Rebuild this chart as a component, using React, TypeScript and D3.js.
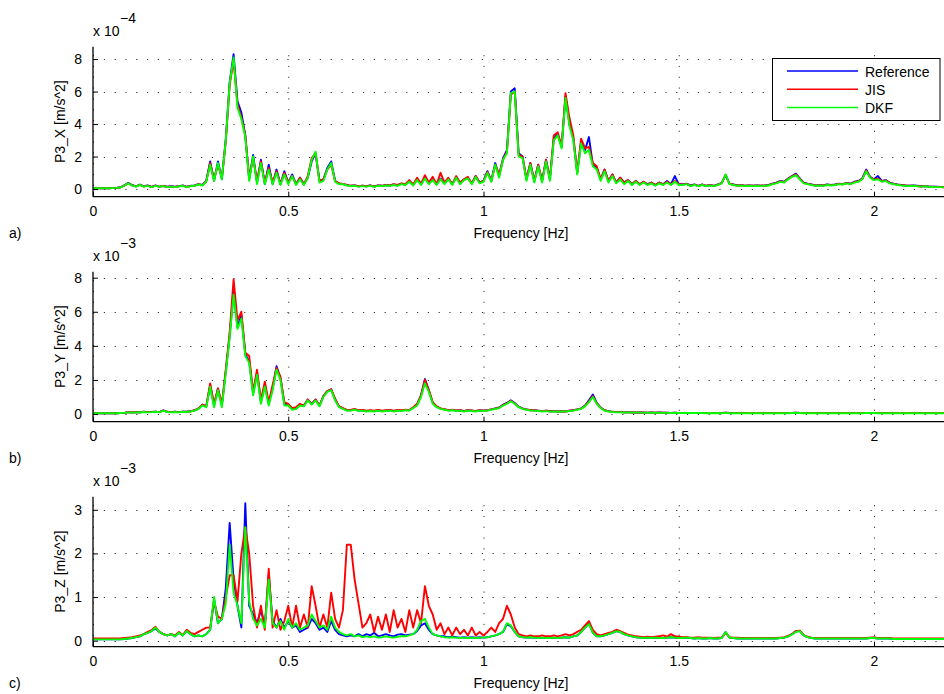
import React from "react";
import * as d3 from "d3";

// spectra at 0.01 Hz steps, from 0 to 2.18 Hz
const FREQ_STEP = 0.01;

const xTicks = [0, 0.5, 1, 1.5, 2];
const seriesNames = ["Reference", "JIS", "DKF"];
const seriesColors = ["#0000ff", "#ff0000", "#00ff00"];

// P3_X, units 1e-4 m/s^2
const refX = [
  0.05,0.05,0.05,0.05,0.05,0.06,0.07,0.11,0.22,0.38,
  0.25,0.16,0.28,0.17,0.22,0.14,0.22,0.15,0.2,0.14,
  0.17,0.14,0.18,0.22,0.14,0.2,0.22,0.3,0.25,0.5,
  1.7,0.5,1.7,0.6,3.1,6.6,8.3,5.4,4.7,3.3,
  0.6,2.1,0.4,1.8,0.3,1.5,0.3,1.2,0.3,1.1,
  0.4,0.9,0.3,0.7,0.3,0.7,1.7,2.2,0.5,0.6,
  1.3,1.7,0.5,0.35,0.3,0.25,0.2,0.22,0.17,0.2,
  0.17,0.22,0.16,0.22,0.2,0.25,0.22,0.28,0.22,0.33,
  0.28,0.5,0.25,0.6,0.3,0.7,0.35,0.6,0.3,0.65,
  0.35,0.65,0.3,0.75,0.35,0.6,0.7,0.35,0.8,0.4,
  0.5,1.1,0.5,1.6,0.8,1.9,2.4,6.0,6.2,2.2,
  2.0,0.6,1.6,0.5,1.5,0.5,1.8,0.6,3.1,3.4,
  2.6,5.7,4.0,3.1,1.0,2.9,2.4,3.2,1.5,1.3,
  0.6,1.2,0.5,0.9,0.4,0.7,0.4,0.55,0.3,0.5,
  0.3,0.45,0.3,0.4,0.25,0.4,0.3,0.5,0.3,0.8,
  0.3,0.3,0.33,0.22,0.28,0.2,0.28,0.2,0.25,0.2,
  0.28,0.38,0.85,0.33,0.28,0.22,0.25,0.2,0.22,0.2,
  0.22,0.2,0.22,0.25,0.33,0.4,0.5,0.45,0.65,0.8,
  0.95,0.65,0.4,0.33,0.28,0.22,0.25,0.22,0.28,0.25,
  0.28,0.33,0.3,0.38,0.33,0.45,0.5,0.65,1.2,0.75,
  0.6,0.8,0.5,0.55,0.4,0.33,0.28,0.25,0.22,0.2,
  0.22,0.2,0.17,0.19,0.16,0.15,0.14,0.13,0.12,
];
const jisX = [
  0.05,0.05,0.05,0.05,0.05,0.06,0.07,0.1,0.21,0.36,
  0.23,0.16,0.26,0.16,0.21,0.13,0.21,0.15,0.19,0.13,
  0.16,0.13,0.17,0.21,0.13,0.19,0.21,0.3,0.24,0.48,
  1.6,0.6,1.5,0.7,2.9,6.4,7.9,5.2,4.4,3.3,
  0.7,1.9,0.5,1.7,0.4,1.3,0.4,1.1,0.3,1.0,
  0.4,0.8,0.3,0.7,0.3,0.8,1.9,2.2,0.5,0.6,
  1.2,1.5,0.5,0.35,0.32,0.25,0.2,0.22,0.17,0.2,
  0.17,0.22,0.16,0.22,0.2,0.25,0.23,0.3,0.25,0.35,
  0.3,0.55,0.28,0.7,0.32,0.85,0.4,0.75,0.3,1.0,
  0.4,0.7,0.3,0.8,0.4,0.6,0.75,0.35,0.8,0.4,
  0.5,1.05,0.5,1.5,0.9,1.8,2.3,5.8,6.0,2.1,
  2.0,0.6,1.6,0.5,1.5,0.5,1.8,0.6,3.3,3.5,
  2.6,5.9,4.4,3.3,1.0,3.1,2.5,2.6,1.6,1.4,
  0.6,1.2,0.5,0.9,0.4,0.7,0.4,0.55,0.3,0.5,
  0.3,0.45,0.28,0.4,0.25,0.4,0.28,0.45,0.28,0.5,
  0.3,0.28,0.32,0.2,0.27,0.2,0.27,0.2,0.24,0.2,
  0.27,0.37,0.88,0.32,0.27,0.22,0.24,0.2,0.22,0.2,
  0.22,0.2,0.22,0.24,0.32,0.38,0.48,0.43,0.63,0.78,
  0.9,0.62,0.38,0.32,0.27,0.22,0.24,0.22,0.27,0.24,
  0.27,0.32,0.3,0.37,0.32,0.43,0.48,0.63,1.15,0.72,
  0.58,0.65,0.48,0.53,0.38,0.32,0.27,0.24,0.22,0.2,
  0.21,0.19,0.16,0.18,0.15,0.14,0.13,0.13,0.11,
];
const dkfX = [
  0.05,0.05,0.05,0.05,0.05,0.06,0.07,0.1,0.2,0.35,
  0.22,0.15,0.25,0.15,0.2,0.12,0.2,0.14,0.18,0.12,
  0.15,0.12,0.16,0.2,0.12,0.18,0.2,0.28,0.22,0.45,
  1.5,0.5,1.6,0.6,3.0,6.5,8.1,5.0,4.3,3.2,
  0.5,2.0,0.3,1.6,0.3,1.2,0.3,1.0,0.25,0.9,
  0.3,0.8,0.25,0.6,0.25,0.7,1.8,2.3,0.4,0.5,
  1.2,1.6,0.45,0.3,0.3,0.22,0.18,0.2,0.15,0.18,
  0.15,0.2,0.14,0.2,0.18,0.22,0.2,0.25,0.2,0.3,
  0.25,0.45,0.22,0.55,0.25,0.65,0.3,0.55,0.25,0.6,
  0.3,0.6,0.25,0.7,0.3,0.55,0.65,0.3,0.75,0.35,
  0.45,1.0,0.45,1.5,0.7,1.8,2.2,5.9,6.0,2.0,
  1.9,0.5,1.5,0.4,1.4,0.4,1.7,0.5,3.0,3.3,
  2.5,5.6,3.9,3.0,0.9,2.8,2.2,2.4,1.4,1.2,
  0.5,1.1,0.4,0.8,0.35,0.6,0.3,0.5,0.25,0.45,
  0.25,0.4,0.25,0.35,0.2,0.35,0.25,0.4,0.25,0.45,
  0.25,0.25,0.3,0.18,0.25,0.18,0.25,0.18,0.22,0.18,
  0.25,0.35,0.9,0.3,0.25,0.2,0.22,0.18,0.2,0.18,
  0.2,0.18,0.2,0.22,0.3,0.35,0.45,0.4,0.6,0.75,
  0.85,0.6,0.35,0.3,0.25,0.2,0.22,0.2,0.25,0.22,
  0.25,0.3,0.28,0.35,0.3,0.4,0.45,0.6,1.1,0.7,
  0.55,0.6,0.45,0.5,0.35,0.3,0.25,0.22,0.2,0.18,
  0.2,0.18,0.15,0.17,0.14,0.13,0.12,0.12,0.1,
];

// P3_Y, units 1e-3 m/s^2
const refY = [
  0.05,0.05,0.05,0.05,0.05,0.05,0.05,0.06,0.07,0.11,
  0.09,0.11,0.1,0.13,0.11,0.12,0.14,0.11,0.22,0.13,
  0.11,0.13,0.11,0.14,0.13,0.16,0.22,0.32,0.55,0.45,
  1.7,0.5,1.5,0.5,2.5,4.6,7.2,5.1,5.8,3.5,
  3.1,1.2,2.4,0.7,1.7,0.6,1.5,2.8,2.1,0.6,
  0.55,0.3,0.35,0.55,0.5,0.85,0.6,0.85,0.5,1.05,
  1.35,1.45,0.85,0.45,0.33,0.22,0.22,0.27,0.2,0.22,
  0.17,0.2,0.17,0.22,0.17,0.2,0.22,0.17,0.22,0.2,
  0.24,0.22,0.37,0.55,1.1,2.05,1.4,0.65,0.43,0.32,
  0.27,0.22,0.24,0.2,0.22,0.17,0.22,0.2,0.17,0.22,
  0.2,0.22,0.27,0.33,0.38,0.55,0.65,0.8,0.65,0.43,
  0.33,0.27,0.22,0.22,0.2,0.17,0.19,0.16,0.17,0.15,
  0.16,0.15,0.19,0.22,0.27,0.33,0.5,0.8,1.15,0.65,
  0.38,0.22,0.17,0.13,0.11,0.11,0.1,0.11,0.09,0.1,
  0.09,0.09,0.08,0.09,0.08,0.09,0.08,0.08,0.07,0.08,
  0.07,0.07,0.07,0.07,0.07,0.07,0.07,0.06,0.07,0.06,
  0.07,0.06,0.08,0.06,0.06,0.06,0.06,0.06,0.06,0.06,
  0.06,0.06,0.06,0.06,0.06,0.06,0.06,0.06,0.06,0.07,
  0.08,0.07,0.06,0.06,0.06,0.06,0.06,0.06,0.06,0.06,
  0.06,0.06,0.06,0.06,0.06,0.06,0.06,0.06,0.07,0.07,
  0.07,0.06,0.06,0.06,0.06,0.06,0.06,0.06,0.06,0.06,
  0.06,0.06,0.06,0.06,0.06,0.06,0.06,0.06,0.06,
];
const jisY = [
  0.05,0.05,0.05,0.05,0.05,0.05,0.05,0.06,0.07,0.11,
  0.09,0.11,0.1,0.13,0.11,0.12,0.14,0.11,0.21,0.13,
  0.11,0.13,0.11,0.14,0.13,0.16,0.22,0.33,0.55,0.45,
  1.8,0.6,1.5,0.6,2.6,4.8,7.9,5.5,6.0,3.6,
  3.4,1.3,2.6,0.8,1.9,0.7,1.7,2.7,2.2,0.7,
  0.6,0.35,0.4,0.6,0.5,0.85,0.6,0.85,0.5,1.05,
  1.35,1.45,0.9,0.45,0.35,0.24,0.24,0.3,0.22,0.24,
  0.19,0.22,0.19,0.24,0.19,0.22,0.24,0.19,0.24,0.22,
  0.25,0.23,0.4,0.6,1.1,2.0,1.4,0.7,0.45,0.33,
  0.28,0.23,0.25,0.21,0.23,0.18,0.23,0.21,0.18,0.23,
  0.2,0.22,0.27,0.32,0.37,0.52,0.62,0.78,0.62,0.42,
  0.32,0.27,0.22,0.22,0.2,0.17,0.19,0.16,0.17,0.15,
  0.16,0.15,0.19,0.22,0.27,0.32,0.48,0.75,1.05,0.62,
  0.37,0.22,0.17,0.13,0.11,0.11,0.1,0.11,0.09,0.1,
  0.09,0.09,0.08,0.09,0.08,0.09,0.08,0.08,0.07,0.08,
  0.07,0.07,0.07,0.07,0.07,0.07,0.07,0.06,0.07,0.06,
  0.07,0.06,0.08,0.06,0.06,0.06,0.06,0.06,0.06,0.06,
  0.06,0.06,0.06,0.06,0.06,0.06,0.06,0.06,0.06,0.07,
  0.08,0.07,0.06,0.06,0.06,0.06,0.06,0.06,0.06,0.06,
  0.06,0.06,0.06,0.06,0.06,0.06,0.06,0.06,0.07,0.07,
  0.07,0.06,0.06,0.06,0.06,0.06,0.06,0.06,0.06,0.06,
  0.06,0.06,0.06,0.06,0.06,0.06,0.06,0.06,0.06,
];
const dkfY = [
  0.05,0.05,0.05,0.05,0.05,0.05,0.05,0.06,0.07,0.1,
  0.08,0.1,0.09,0.12,0.1,0.11,0.13,0.1,0.2,0.12,
  0.1,0.12,0.1,0.13,0.12,0.15,0.2,0.3,0.5,0.4,
  1.6,0.4,1.4,0.4,2.4,4.5,7.0,5.0,5.6,3.4,
  3.0,1.1,2.3,0.6,1.6,0.5,1.4,2.6,2.0,0.5,
  0.5,0.25,0.3,0.5,0.45,0.8,0.55,0.8,0.45,1.0,
  1.3,1.4,0.8,0.4,0.3,0.2,0.2,0.25,0.18,0.2,
  0.15,0.18,0.15,0.2,0.15,0.18,0.2,0.15,0.2,0.18,
  0.22,0.2,0.35,0.5,1.0,1.8,1.3,0.6,0.4,0.3,
  0.25,0.2,0.22,0.18,0.2,0.15,0.2,0.18,0.15,0.2,
  0.18,0.2,0.25,0.3,0.35,0.5,0.6,0.75,0.6,0.4,
  0.3,0.25,0.2,0.2,0.18,0.15,0.17,0.14,0.15,0.13,
  0.15,0.14,0.18,0.2,0.25,0.3,0.45,0.7,1.0,0.6,
  0.35,0.2,0.15,0.12,0.1,0.1,0.09,0.1,0.08,0.09,
  0.08,0.08,0.07,0.08,0.07,0.08,0.07,0.07,0.06,0.07,
  0.06,0.06,0.06,0.06,0.06,0.06,0.06,0.05,0.06,0.05,
  0.06,0.05,0.07,0.05,0.05,0.05,0.05,0.05,0.05,0.05,
  0.05,0.05,0.05,0.05,0.05,0.05,0.05,0.05,0.05,0.06,
  0.07,0.06,0.05,0.05,0.05,0.05,0.05,0.05,0.05,0.05,
  0.05,0.05,0.05,0.05,0.05,0.05,0.05,0.05,0.06,0.06,
  0.06,0.05,0.05,0.05,0.05,0.05,0.05,0.05,0.05,0.05,
  0.05,0.05,0.05,0.05,0.05,0.05,0.05,0.05,0.05,
];

// P3_Z, units 1e-3 m/s^2
const refZ = [
  0.03,0.03,0.03,0.03,0.03,0.03,0.03,0.03,0.04,0.05,
  0.06,0.08,0.1,0.15,0.18,0.22,0.28,0.2,0.15,0.12,
  0.15,0.1,0.18,0.12,0.22,0.15,0.1,0.12,0.1,0.15,
  0.25,0.95,0.4,0.5,1.2,2.7,1.4,0.8,0.3,3.15,
  0.8,0.6,0.4,0.7,0.35,1.5,0.45,0.3,0.5,0.3,
  0.45,0.3,0.35,0.2,0.25,0.3,0.5,0.4,0.25,0.3,
  0.2,0.45,0.25,0.15,0.12,0.1,0.12,0.1,0.15,0.1,
  0.15,0.12,0.18,0.1,0.12,0.15,0.12,0.1,0.14,0.15,
  0.12,0.14,0.15,0.22,0.35,0.4,0.25,0.15,0.12,0.1,
  0.1,0.08,0.09,0.08,0.07,0.08,0.07,0.08,0.07,0.08,
  0.07,0.08,0.1,0.12,0.15,0.2,0.38,0.33,0.2,0.1,
  0.08,0.07,0.08,0.07,0.06,0.07,0.06,0.06,0.07,0.06,
  0.07,0.08,0.07,0.1,0.12,0.2,0.3,0.4,0.18,0.1,
  0.1,0.12,0.15,0.18,0.22,0.2,0.15,0.12,0.1,0.08,
  0.07,0.06,0.07,0.06,0.07,0.06,0.06,0.07,0.08,0.07,
  0.06,0.06,0.07,0.06,0.05,0.06,0.05,0.05,0.06,0.05,
  0.05,0.06,0.2,0.07,0.06,0.05,0.05,0.05,0.05,0.05,
  0.05,0.05,0.05,0.05,0.05,0.05,0.06,0.07,0.1,0.15,
  0.22,0.22,0.12,0.08,0.06,0.05,0.05,0.05,0.05,0.05,
  0.05,0.05,0.05,0.05,0.05,0.05,0.05,0.05,0.05,0.06,
  0.06,0.05,0.05,0.05,0.05,0.04,0.04,0.04,0.04,0.04,
  0.04,0.04,0.04,0.04,0.04,0.04,0.04,0.04,0.04,
];
const jisZ = [
  0.05,0.05,0.05,0.05,0.05,0.05,0.05,0.05,0.06,0.07,
  0.08,0.1,0.12,0.15,0.2,0.24,0.32,0.2,0.15,0.12,
  0.15,0.12,0.2,0.13,0.25,0.18,0.15,0.2,0.25,0.3,
  0.3,0.9,0.55,0.5,1.0,1.5,1.5,0.9,2.0,2.6,
  2.0,0.8,0.3,0.8,0.25,1.65,0.3,0.7,0.25,0.45,
  0.8,0.3,0.8,0.3,0.6,0.3,1.25,0.8,0.3,0.6,
  0.3,1.1,0.5,0.3,0.7,2.2,2.2,1.4,0.85,0.3,
  0.4,0.6,0.2,0.55,0.25,0.6,0.2,0.7,0.3,0.5,
  0.2,0.7,0.3,0.7,0.4,1.25,0.8,0.6,0.25,0.4,
  0.15,0.3,0.12,0.3,0.15,0.25,0.12,0.3,0.12,0.2,
  0.12,0.2,0.3,0.2,0.4,0.5,0.8,0.6,0.3,0.15,
  0.12,0.1,0.12,0.1,0.1,0.12,0.1,0.1,0.12,0.1,
  0.12,0.15,0.12,0.15,0.2,0.25,0.35,0.45,0.25,0.15,
  0.12,0.15,0.18,0.2,0.25,0.22,0.18,0.14,0.12,0.1,
  0.09,0.08,0.09,0.08,0.09,0.1,0.12,0.09,0.15,0.1,
  0.09,0.08,0.08,0.07,0.07,0.08,0.07,0.07,0.07,0.06,
  0.07,0.07,0.18,0.08,0.07,0.07,0.06,0.06,0.06,0.06,
  0.06,0.06,0.06,0.06,0.06,0.06,0.07,0.08,0.11,0.15,
  0.22,0.23,0.13,0.09,0.07,0.06,0.06,0.06,0.06,0.06,
  0.06,0.06,0.06,0.06,0.06,0.06,0.06,0.06,0.06,0.07,
  0.08,0.06,0.06,0.06,0.06,0.05,0.05,0.05,0.05,0.05,
  0.05,0.05,0.05,0.05,0.05,0.05,0.05,0.05,0.05,
];
const dkfZ = [
  0.03,0.03,0.03,0.03,0.03,0.03,0.03,0.03,0.04,0.05,
  0.06,0.08,0.1,0.15,0.18,0.22,0.3,0.2,0.15,0.12,
  0.15,0.1,0.18,0.12,0.22,0.15,0.1,0.12,0.1,0.15,
  0.25,1.0,0.4,0.5,0.85,2.2,1.1,0.8,0.4,2.6,
  0.9,0.5,0.35,0.5,0.3,1.4,0.4,0.3,0.45,0.25,
  0.5,0.3,0.4,0.25,0.3,0.35,0.6,0.45,0.3,0.35,
  0.25,0.55,0.3,0.2,0.15,0.12,0.15,0.1,0.12,0.08,
  0.1,0.08,0.1,0.07,0.08,0.1,0.08,0.07,0.09,0.1,
  0.1,0.12,0.15,0.25,0.45,0.5,0.3,0.15,0.12,0.1,
  0.08,0.07,0.08,0.07,0.06,0.07,0.06,0.07,0.06,0.07,
  0.07,0.08,0.1,0.12,0.15,0.2,0.4,0.35,0.2,0.1,
  0.08,0.07,0.08,0.07,0.06,0.07,0.06,0.06,0.07,0.06,
  0.07,0.08,0.07,0.1,0.12,0.2,0.3,0.38,0.18,0.1,
  0.1,0.12,0.15,0.18,0.22,0.2,0.15,0.12,0.1,0.08,
  0.07,0.06,0.07,0.06,0.07,0.06,0.06,0.07,0.08,0.07,
  0.06,0.06,0.07,0.06,0.05,0.06,0.05,0.05,0.06,0.05,
  0.05,0.06,0.2,0.07,0.06,0.05,0.05,0.05,0.05,0.05,
  0.05,0.05,0.05,0.05,0.05,0.05,0.06,0.07,0.1,0.14,
  0.2,0.22,0.12,0.08,0.06,0.05,0.05,0.05,0.05,0.05,
  0.05,0.05,0.05,0.05,0.05,0.05,0.05,0.05,0.05,0.06,
  0.06,0.05,0.05,0.05,0.05,0.04,0.04,0.04,0.04,0.04,
  0.04,0.04,0.04,0.04,0.04,0.04,0.04,0.04,0.04,
];

const panels = [
  { letter: "a)", ylabel: "P3_X [m/s^2]", exponent: "\u22124", yDomain: [-0.47, 8.76], yTicks: [0, 2, 4, 6, 8], series: [refX, jisX, dkfX] },
  { letter: "b)", ylabel: "P3_Y [m/s^2]", exponent: "\u22123", yDomain: [-0.45, 8.35], yTicks: [0, 2, 4, 6, 8], series: [refY, jisY, dkfY] },
  { letter: "c)", ylabel: "P3_Z [m/s^2]", exponent: "\u22123", yDomain: [-0.138, 3.3], yTicks: [0, 1, 2, 3], series: [refZ, jisZ, dkfZ] },
];

const W = 944;
const H = 694;
const left = 93;
const right = 944;
const panelTops = [46.7, 271.7, 496.7];
const panelH = 150;
const FONT = "'Liberation Sans', Arial, Helvetica, sans-serif";

export default function App() {
  const svgRef = React.useRef<SVGSVGElement>(null);

  React.useEffect(() => {
    const svg = d3.select(svgRef.current);
    svg.selectAll("*").remove();
    svg.append("rect").attr("width", W).attr("height", H).attr("fill", "#fff");

    // 0 Hz at x=93, 2 Hz at x=874
    const x = d3.scaleLinear().domain([0, 2]).range([left, 874]);

    panels.forEach((p, pi) => {
      const top = panelTops[pi];
      const bottom = top + panelH;
      const y = d3.scaleLinear().domain(p.yDomain).range([bottom, top]);
      const g = svg.append("g").attr("font-family", FONT).attr("font-size", 14);

      const clipId = `clip${pi}`;
      g.append("clipPath").attr("id", clipId)
        .append("rect").attr("x", left).attr("y", top).attr("width", right - left).attr("height", panelH);

      // dotted grid
      const grid = g.append("g").attr("stroke", "#333").attr("stroke-width", 1).attr("stroke-dasharray", "1.2 9.6");
      xTicks.forEach((t) => {
        grid.append("line").attr("x1", x(t) + 0.5).attr("x2", x(t) + 0.5).attr("y1", bottom).attr("y2", top);
      });
      p.yTicks.forEach((t) => {
        grid.append("line").attr("x1", left).attr("x2", right).attr("y1", Math.round(y(t)) + 0.5).attr("y2", Math.round(y(t)) + 0.5);
      });

      // spectra
      const line = d3.line<number>()
        .x((_, i) => x(i * FREQ_STEP))
        .y((d) => y(d));
      const lines = g.append("g").attr("clip-path", `url(#${clipId})`);
      p.series.forEach((s, si) => {
        lines.append("path")
          .attr("d", line(s))
          .attr("fill", "none")
          .attr("stroke", seriesColors[si])
          .attr("stroke-width", 1.9)
          .attr("stroke-linejoin", "round");
      });

      // axes with inward ticks
      const xAxis = g.append("g").attr("transform", `translate(0,${bottom})`)
        .call(d3.axisBottom(x).tickValues(xTicks).tickSize(-5).tickPadding(9).tickFormat(d3.format("")));
      xAxis.select(".domain").remove();
      xAxis.append("line").attr("x1", left).attr("x2", right).attr("stroke", "#000").attr("stroke-width", 1.3);
      xAxis.selectAll("text").attr("font-size", 14).attr("font-family", FONT).attr("fill", "#000").attr("dy", "0.71em");

      const yAxis = g.append("g").attr("transform", `translate(${left},0)`)
        .call(d3.axisLeft(y).tickValues(p.yTicks).tickSize(-5).tickPadding(11).tickFormat(d3.format("d")));
      yAxis.select(".domain").remove();
      yAxis.append("line").attr("y1", top).attr("y2", bottom).attr("stroke", "#000").attr("stroke-width", 1.3);
      yAxis.selectAll("text").attr("font-size", 14).attr("font-family", FONT).attr("fill", "#000");

      // exponent label
      g.append("text").attr("x", left).attr("y", top - 11).text("x 10");
      g.append("text").attr("x", 120).attr("y", top - 24).text(p.exponent);

      // y label
      g.append("text")
        .attr("transform", `translate(65,${(top + bottom) / 2}) rotate(-90)`)
        .attr("text-anchor", "middle")
        .text(p.ylabel);

      // x label and panel letter
      g.append("text").attr("x", 521).attr("y", bottom + 41).attr("text-anchor", "middle").text("Frequency [Hz]");
      g.append("text").attr("x", 9).attr("y", bottom + 41).text(p.letter);
    });

    // legend
    const lg = svg.append("g").attr("font-family", FONT).attr("font-size", 14);
    lg.append("rect").attr("x", 772.5).attr("y", 58.5).attr("width", 167.5).attr("height", 62)
      .attr("fill", "#fff").attr("stroke", "#000").attr("stroke-width", 1);
    seriesNames.forEach((name, i) => {
      const cy = 71 + i * 18.3;
      lg.append("line").attr("x1", 787).attr("x2", 858).attr("y1", cy).attr("y2", cy)
        .attr("stroke", seriesColors[i]).attr("stroke-width", 1.5);
      lg.append("text").attr("x", 865).attr("y", cy + 5.5).text(name);
    });
  }, []);

  return (
    <svg
      ref={svgRef}
      width={W}
      height={H}
      style={{ position: "absolute", left: 0, top: 0, display: "block" }}
    />
  );
}
